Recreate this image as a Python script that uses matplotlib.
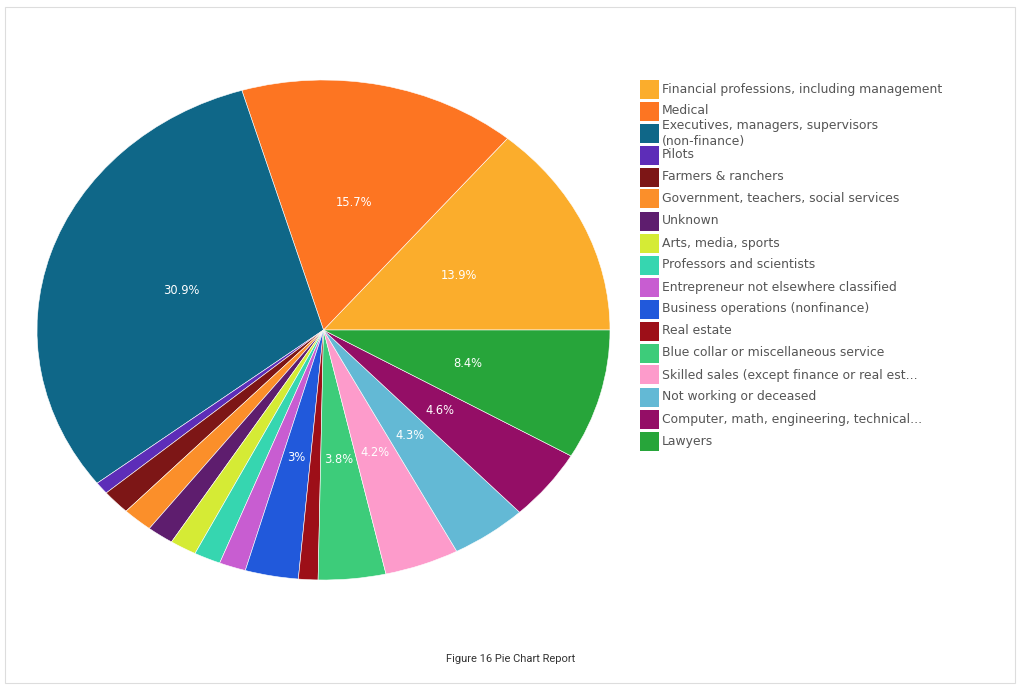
import matplotlib.pyplot as plt
from matplotlib.patches import Rectangle

labels = [
    "Financial professions, including management",
    "Medical",
    "Executives, managers, supervisors\n(non-finance)",
    "Pilots",
    "Farmers & ranchers",
    "Government, teachers, social services",
    "Unknown",
    "Arts, media, sports",
    "Professors and scientists",
    "Entrepreneur not elsewhere classified",
    "Business operations (nonfinance)",
    "Real estate",
    "Blue collar or miscellaneous service",
    "Skilled sales (except finance or real est...",
    "Not working or deceased",
    "Computer, math, engineering, technical...",
    "Lawyers",
]
values = [13.9, 15.7, 30.9, 0.8, 1.6, 1.7, 1.5, 1.5, 1.5, 1.5, 3.0, 1.1,
          3.8, 4.2, 4.3, 4.6, 8.4]
colors = ["#fbad2c", "#fd7522", "#0f6788", "#5d2db8", "#7d1616", "#fb8f2a",
          "#5e1d6e", "#d5eb35", "#36d6b0", "#c85dd1", "#2159db", "#9d0f18",
          "#3dcc7a", "#fd9bcb", "#63b9d5", "#940e66", "#27a53a"]

W, H = 1024, 691
fig = plt.figure(figsize=(W / 100, H / 100), dpi=100)

# light frame round the whole picture
fig.patches.append(Rectangle((5 / W, 8 / H), 1010 / W, 676 / H, transform=fig.transFigure,
                             fill=False, edgecolor="#dddddd", linewidth=0.8))


def pct(p):
    if p < 2.5:
        return ""
    s = "%.1f" % p
    if s.endswith(".0"):
        s = s[:-2]
    return s + "%"


ax = fig.add_axes([37 / W, 111 / H, 573 / W, 500 / H])
wedges, texts, autotexts = ax.pie(values, colors=colors, startangle=0, counterclock=True,
                                  autopct=pct, pctdistance=0.52,
                                  wedgeprops=dict(edgecolor="white", linewidth=0.4),
                                  textprops=dict(color="white", fontsize=8.3))
ax.set_aspect("auto")
ax.set_xlim(-1, 1)
ax.set_ylim(-1, 1)
ax.axis("off")

# legend
x0 = 640
y0 = 89
step = 22
for i in range(len(labels)):
    yc = y0 + i * step
    fig.patches.append(Rectangle((x0 / W, 1 - (yc + 9.5) / H), 19 / W, 19 / H,
                                 transform=fig.transFigure, facecolor=colors[i],
                                 edgecolor="none"))
    if "\n" in labels[i]:
        fig.text((x0 + 22) / W, 1 - (yc - 7) / H, labels[i].split("\n")[0],
                 fontsize=8.9, color="#555555", va="center", ha="left")
        fig.text((x0 + 22) / W, 1 - (yc + 8) / H, labels[i].split("\n")[1],
                 fontsize=8.9, color="#555555", va="center", ha="left")
    else:
        fig.text((x0 + 22) / W, 1 - yc / H, labels[i],
                 fontsize=8.9, color="#555555", va="center", ha="left")

fig.text(511 / W, 1 - 659 / H, "Figure 16 Pie Chart Report", fontsize=8,
         family="Roboto", color="#333333", ha="center", va="center")

fig.savefig("out.png", dpi=100)
